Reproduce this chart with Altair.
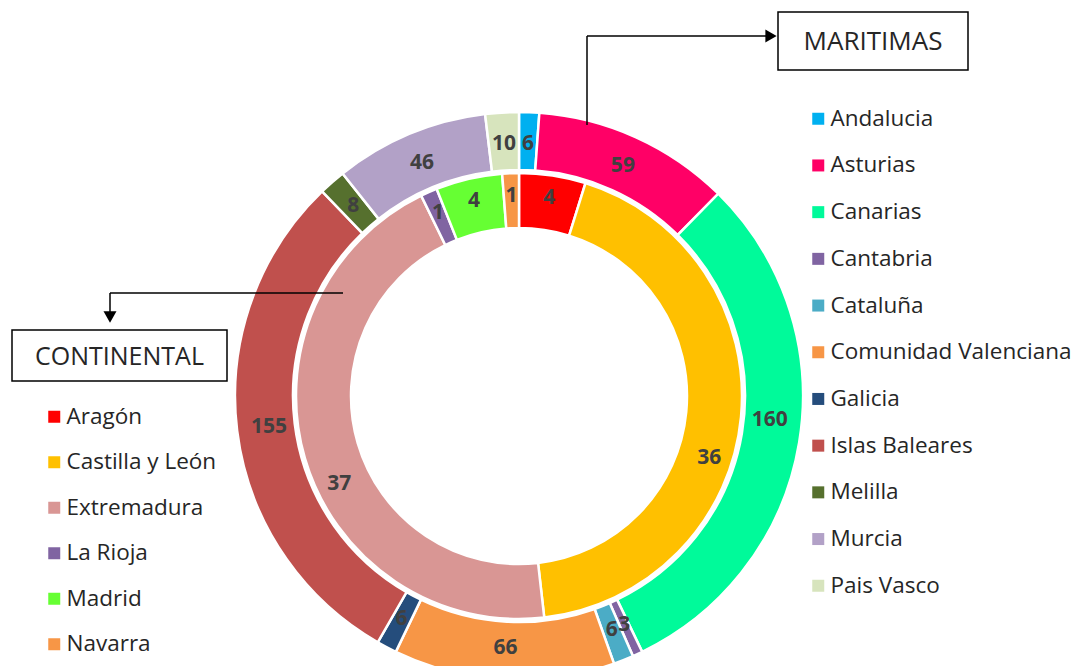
import altair as alt
import pandas as pd

# ---- data ----
outer_regions = ["Andalucia", "Asturias", "Canarias", "Cantabria", "Cataluña",
                 "Comunidad Valenciana", "Galicia", "Islas Baleares", "Melilla",
                 "Murcia", "Pais Vasco"]
outer_values = [6, 59, 160, 3, 6, 66, 6, 155, 8, 46, 10]
outer_colors = ["#00B0F0", "#FF0066", "#00FA9A", "#8064A2", "#4BACC6", "#F79646",
                "#254D7C", "#C0504D", "#56702E", "#B2A1C7", "#D7E4BD"]

inner_regions = ["Aragón", "Castilla y León", "Extremadura", "La Rioja", "Madrid", "Navarra"]
inner_values = [4, 36, 37, 1, 4, 1]
inner_colors = ["#FF0000", "#FFC000", "#D99694", "#8064A2", "#66FF33", "#F79646"]

outer_df = pd.DataFrame({"region": outer_regions, "value": outer_values,
                         "idx": list(range(len(outer_regions)))})
inner_df = pd.DataFrame({"region": inner_regions, "value": inner_values,
                         "idx": list(range(len(inner_regions)))})

FONT = "Open Sans"
CX, CY = 511, 388


def ring(df, names, colors, r_in, r_out, r_lab, legend, shifted):
    base = alt.Chart(df).encode(
        theta=alt.Theta("value:Q", stack=True),
        order=alt.Order("idx:Q"),
        x=alt.value(CX),
        y=alt.value(CY),
    )
    arcs = base.mark_arc(innerRadius=r_in, outerRadius=r_out, stroke="white",
                         strokeWidth=2.5).encode(
        color=alt.Color("region:N", scale=alt.Scale(domain=names, range=colors),
                        legend=legend)
    )
    layers = [arcs]
    txt = dict(radius=r_lab, font=FONT, fontSize=21, fontWeight="bold", color="#404040")
    special = list(shifted.keys())
    pred = alt.FieldOneOfPredicate(field="region", oneOf=special)
    layers.append(base.mark_text(**txt).encode(
        text=alt.condition(pred, alt.value(""), alt.Text("value:Q"))))
    for reg, off in shifted.items():
        layers.append(base.mark_text(thetaOffset=off, **txt).encode(
            text=alt.condition(alt.FieldEqualPredicate(field="region", equal=reg),
                               alt.Text("value:Q"), alt.value(""))))
    return alt.layer(*layers)


def leg(lx, ly, rowpad, fs):
    return alt.Legend(orient="none", legendX=lx, legendY=ly, direction="vertical",
                      title=None, symbolType="square", symbolSize=144,
                      symbolStrokeWidth=0, labelFont=FONT, labelFontSize=fs,
                      labelColor="#262626", labelOffset=1, labelLimit=400,
                      rowPadding=rowpad, padding=0)


outer = ring(outer_df, outer_regions, outer_colors, 226, 284, 252,
             leg(799, 99.5, 23.7, 22.5), {"Canarias": -0.07})
inner = ring(inner_df, inner_regions, inner_colors, 168, 223, 200,
             leg(35, 397.5, 22.5, 22.5), {"Castilla y León": 0.22, "Extremadura": -0.17})

one = pd.DataFrame({"a": [0]})
ann = alt.Chart(one)


def rule(x1, y1, x2, y2):
    return ann.mark_rule(color="black", strokeWidth=1.5).encode(
        x=alt.value(x1), y=alt.value(y1), x2=alt.value(x2), y2=alt.value(y2))


def box(x1, y1, x2, y2, label, fs):
    r = ann.mark_rect(fill="white", stroke="black", strokeWidth=1.5).encode(
        x=alt.value(x1), y=alt.value(y1), x2=alt.value(x2), y2=alt.value(y2))
    t = ann.mark_text(font=FONT, fontSize=fs, color="#262626", align="center",
                      baseline="middle").encode(
        x=alt.value((x1 + x2) / 2), y=alt.value((y1 + y2) / 2 + 1), text=alt.value(label))
    return r + t


def tri(x, y, shape):
    return ann.mark_point(shape=shape, filled=True, color="black", size=170, opacity=1).encode(
        x=alt.value(x), y=alt.value(y))


annotations = alt.layer(
    rule(579, 117, 579, 28), rule(579, 28, 760, 28), tri(763, 28, "triangle-right"),
    box(770, 4, 960, 62, "MARITIMAS", 26),
    rule(335, 285, 102, 285), rule(102, 285, 102, 306), tri(102, 309, "triangle-down"),
    box(4, 322, 219, 373, "CONTINENTAL", 25),
)

chart = alt.layer(outer, inner, annotations).resolve_scale(
    theta="independent", color="independent"
).properties(
    width=1064, height=658, autosize=alt.AutoSizeParams(type="none"), padding=0,
    background="white"
).configure_view(stroke=None, strokeWidth=0)

chart.save("out.html", embed_options={"renderer": "svg", "actions": False})
